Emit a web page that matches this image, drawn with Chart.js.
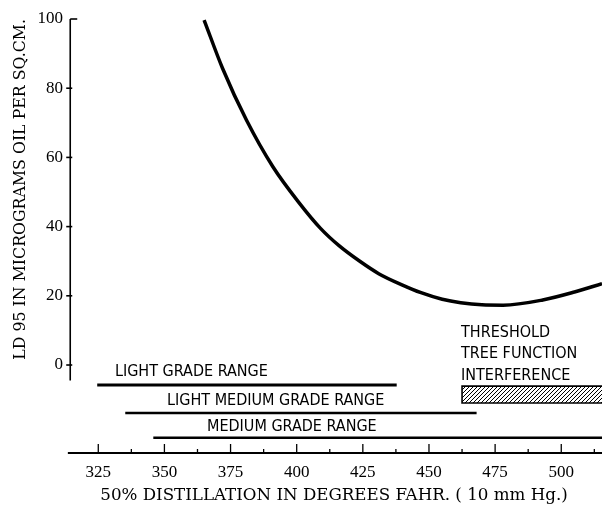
<!DOCTYPE html>
<html><head><meta charset="utf-8">
<script src="https://cdn.jsdelivr.net/npm/chart.js@4/dist/chart.umd.min.js"></script>
<style>html,body{margin:0;padding:0;background:#fff}#wrap{width:602px;height:509px;position:relative}</style>
</head><body><div id="wrap"><canvas id="c" width="602" height="509"></canvas></div>
<script>
// ---- data ----
const curveX = [365, 372, 381, 391, 401, 409, 416, 424, 431, 440, 447, 455, 462, 470, 478, 493, 505, 515.4];
const curveY = [99.7, 85.7, 70.8, 57.3, 46.8, 39.5, 34.5, 29.9, 26.4, 23.1, 20.9, 19.0, 18.0, 17.4, 17.3, 18.8, 21.1, 23.5];
const yTicks = [0, 20, 40, 60, 80, 100];
const xTicks = [325, 350, 375, 400, 425, 450, 475, 500];
const rangeNames = ['LIGHT GRADE RANGE', 'LIGHT MEDIUM GRADE RANGE', 'MEDIUM GRADE RANGE'];
const rangeStart = [324.6, 335.2, 345.8];
const rangeEnd = [437.8, 468, 515.4];
const rangeLevel = [-5.8, -13.9, -21.0];
const thresholdText = ['THRESHOLD', 'TREE FUNCTION', 'INTERFERENCE'];
const thresholdFrom = 462.5;
const thresholdTo = 515.4;
const thresholdTop = -6.1;
const thresholdBottom = -11.0;

// ---- layout/styles ----
const X_MIN = 312.8, X_MAX = 515.4, Y_MIN = -25.43, Y_MAX = 100;
const X_AXIS_FROM = 313.5;
const Y_AXIS_AT = 314.4;
const SERIF = '"Liberation Serif", "DejaVu Serif", serif';
const WIDE_SERIF = '"DejaVu Serif", "Liberation Serif", serif';
const NARROW = '"Liberation Sans Narrow", "DejaVu Sans Condensed", sans-serif';
const rangeLabelX = [331.3, 351, 366.1];
const rangeLabelDy = [-13, -12, -11];
const thresholdLabelY = [9.25, 3.2, -3.2];

// hatch pattern
const pc = document.createElement('canvas');
pc.width = 4; pc.height = 4;
const pctx = pc.getContext('2d');
pctx.fillStyle = '#fff'; pctx.fillRect(0, 0, 4, 4);
pctx.strokeStyle = '#000'; pctx.lineWidth = 1;
pctx.beginPath(); pctx.moveTo(0, 4); pctx.lineTo(4, 0); pctx.moveTo(-1, 1); pctx.lineTo(1, -1); pctx.moveTo(3, 5); pctx.lineTo(5, 3); pctx.stroke();
const hatch = document.getElementById('c').getContext('2d').createPattern(pc, 'repeat');

const datasets = [];
datasets.push({
  label: 'LD 95',
  data: curveX.map((x, i) => ({x, y: curveY[i]})),
  borderColor: '#000', borderWidth: 3.5, pointRadius: 0,
  cubicInterpolationMode: 'monotone', fill: false, clip: false
});
rangeNames.forEach((n, i) => {
  datasets.push({
    label: n,
    data: [{x: rangeStart[i], y: rangeLevel[i]}, {x: rangeEnd[i], y: rangeLevel[i]}],
    borderColor: '#000', borderWidth: i === 0 ? 3 : 2.5, pointRadius: 0, fill: false, clip: false
  });
});
datasets.push({
  label: 'THRESHOLD TREE FUNCTION INTERFERENCE',
  data: [{x: thresholdTo, y: thresholdTop}, {x: thresholdFrom, y: thresholdTop},
         {x: thresholdFrom, y: thresholdBottom}, {x: thresholdTo, y: thresholdBottom}],
  borderColor: '#000', borderWidth: 1.6, pointRadius: 0, fill: 'shape',
  backgroundColor: hatch, clip: false
});

const axesPlugin = {
  id: 'axesPlugin',
  afterDatasetsDraw(chart) {
    const {ctx, scales: {x, y}} = chart;
    ctx.save();
    ctx.strokeStyle = '#000';
    // y axis
    const ax = x.getPixelForValue(Y_AXIS_AT);
    ctx.lineWidth = 1.6;
    ctx.beginPath();
    ctx.moveTo(ax, y.getPixelForValue(Y_MAX));
    ctx.lineTo(ax, y.getPixelForValue(-4.5));
    ctx.stroke();
    yTicks.forEach(v => {
      const py = y.getPixelForValue(v);
      ctx.beginPath();
      if (v === 100) { ctx.moveTo(ax, py); ctx.lineTo(ax + 7, py); }
      else { ctx.moveTo(ax - 4, py); ctx.lineTo(ax + 2, py); }
      ctx.stroke();
    });
    // x axis
    const by = y.getPixelForValue(Y_MIN);
    ctx.lineWidth = 2;
    ctx.beginPath();
    ctx.moveTo(x.getPixelForValue(X_AXIS_FROM), by);
    ctx.lineTo(x.getPixelForValue(X_MAX), by);
    ctx.stroke();
    ctx.lineWidth = 1.3;
    for (let v = 325; v <= X_MAX; v += 12.5) {
      const px = x.getPixelForValue(v);
      const major = (v % 25) === 0;
      ctx.beginPath();
      ctx.moveTo(px, by);
      ctx.lineTo(px, by - (major ? 9 : 4));
      ctx.stroke();
    }
    // range labels
    ctx.fillStyle = '#000';
    ctx.font = '16px ' + NARROW;
    ctx.textBaseline = 'middle';
    ctx.textAlign = 'left';
    rangeNames.forEach((n, i) => {
      ctx.fillText(n, x.getPixelForValue(rangeLabelX[i]), y.getPixelForValue(rangeLevel[i]) + rangeLabelDy[i]);
    });
    thresholdText.forEach((t, i) => {
      ctx.fillText(t, x.getPixelForValue(thresholdFrom) - 1, y.getPixelForValue(thresholdLabelY[i]));
    });
    ctx.restore();
  }
};

new Chart(document.getElementById('c'), {
  type: 'line',
  data: {datasets},
  plugins: [axesPlugin],
  options: {
    responsive: false, animation: false, devicePixelRatio: 1,
    layout: {padding: {top: 19, right: 0, left: 0, bottom: 0}},
    plugins: {legend: {display: false}, tooltip: {enabled: false}},
    scales: {
      x: {
        type: 'linear', min: X_MIN, max: X_MAX,
        grid: {display: false, drawTicks: false}, border: {display: false},
        afterBuildTicks: s => { s.ticks = xTicks.map(v => ({value: v})); },
        afterFit: s => { s.height = 56; },
        ticks: {autoSkip: false, maxRotation: 0, padding: 9, color: '#000',
                font: {family: SERIF, size: 17}},
        title: {display: true, text: '50% DISTILLATION IN DEGREES FAHR. ( 10 mm Hg.)',
                color: '#000', font: {family: WIDE_SERIF, size: 16.7}, padding: {top: 0, bottom: 3}}
      },
      y: {
        type: 'linear', min: Y_MIN, max: Y_MAX,
        grid: {display: false, drawTicks: false}, border: {display: false},
        afterBuildTicks: s => { s.ticks = yTicks.map(v => ({value: v})); },
        afterFit: s => { s.width = 66; },
        ticks: {autoSkip: false, padding: 3, color: '#000',
                font: {family: SERIF, size: 17}},
        title: {display: true, text: 'LD 95 IN MICROGRAMS OIL PER SQ.CM.', align: 'end',
                color: '#000', font: {family: WIDE_SERIF, size: 15.8}, padding: {top: 11, bottom: 0}}
      }
    }
  }
});
</script></body></html>
